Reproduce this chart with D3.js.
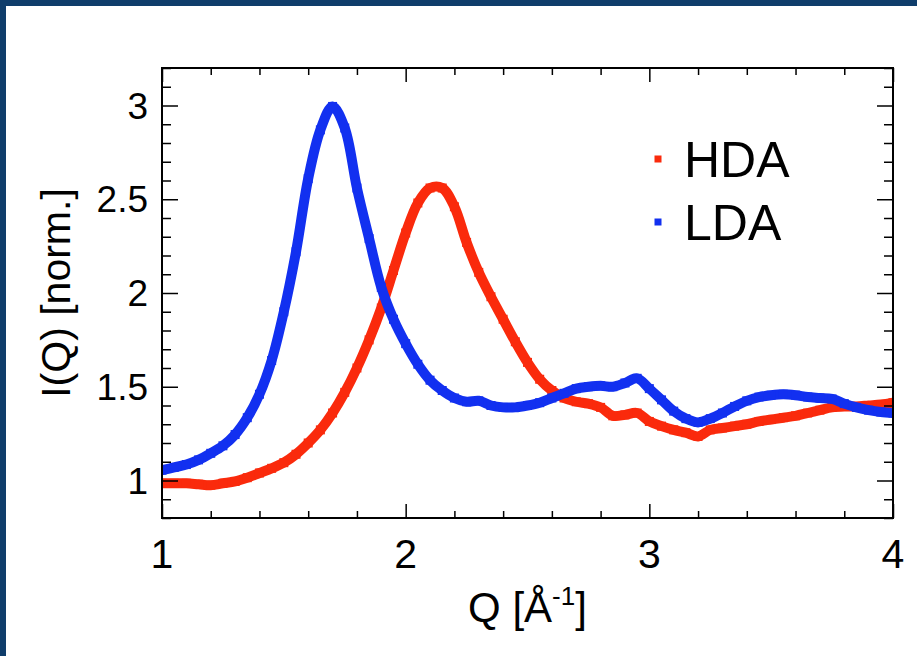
<!DOCTYPE html>
<html><head><meta charset="utf-8">
<script src="https://cdn.jsdelivr.net/npm/d3@7/dist/d3.min.js"></script>
<style>
html,body{margin:0;padding:0;background:#fff;}
svg{display:block;font-family:"Liberation Sans",Arial,Helvetica,sans-serif;}
</style></head>
<body><svg id="chart" width="917" height="656"></svg>
<script>
// ---- data ----
const qValues = [1.00,1.05,1.10,1.15,1.20,1.25,1.30,1.35,1.40,1.45,1.50,1.55,1.60,1.65,1.70,1.75,1.80,1.85,1.90,1.95,
  2.00,2.05,2.10,2.15,2.20,2.25,2.30,2.35,2.40,2.45,2.50,2.55,2.60,2.65,2.70,2.75,2.80,2.85,2.90,2.95,
  3.00,3.05,3.10,3.15,3.20,3.25,3.30,3.35,3.40,3.45,3.50,3.55,3.60,3.65,3.70,3.75,3.80,3.85,3.90,3.95,4.00];
const hdaValues = [0.985,0.985,0.985,0.98,0.975,0.985,0.995,1.015,1.04,1.065,1.095,1.14,1.20,1.27,1.36,1.47,1.60,1.75,1.92,2.12,
  2.32,2.48,2.56,2.56,2.46,2.27,2.11,1.98,1.86,1.74,1.63,1.54,1.48,1.44,1.42,1.41,1.39,1.345,1.35,1.36,
  1.315,1.29,1.27,1.255,1.235,1.27,1.28,1.29,1.30,1.315,1.325,1.335,1.345,1.36,1.375,1.39,1.395,1.395,1.40,1.405,1.415];
const ldaValues = [1.055,1.07,1.085,1.11,1.145,1.185,1.245,1.335,1.46,1.64,1.90,2.22,2.61,2.87,2.995,2.88,2.56,2.29,2.03,1.86,
  1.73,1.62,1.535,1.48,1.44,1.42,1.425,1.40,1.39,1.39,1.40,1.415,1.44,1.465,1.49,1.50,1.505,1.50,1.52,1.545,
  1.49,1.43,1.37,1.33,1.31,1.33,1.36,1.395,1.425,1.445,1.455,1.46,1.455,1.445,1.44,1.435,1.41,1.39,1.375,1.365,1.36];
const seriesNames = ["HDA","LDA"];
const xMajorTicks = [1,2,3,4];
const yMajorTicks = [1,1.5,2,2.5,3];

// ---- layout ----
const svg = d3.select("#chart");
const W = 917, H = 656;
const L = 162, R = 893, T = 68, B = 518;
const colors = {HDA:"#fa2a0c", LDA:"#1230f0"};

svg.append("rect").attr("x",0).attr("y",0).attr("width",W).attr("height",H).attr("fill","#0f3d6b");
svg.append("rect").attr("x",6).attr("y",6).attr("width",W-6).attr("height",H-6).attr("fill","#fff");

const x = d3.scaleLinear().domain([1,4]).range([L,R]);
const y = d3.scaleLinear().domain([0.8,3.2]).range([B,T]);

const xMinor = d3.range(1,4.0001,0.2).map(v=>+v.toFixed(2)).filter(v=>!xMajorTicks.includes(v));
const yMinor = d3.range(0.8,3.2001,0.1).map(v=>+v.toFixed(2)).filter(v=>!yMajorTicks.includes(v));

svg.append("clipPath").attr("id","clip").append("rect")
  .attr("x",L).attr("y",T).attr("width",R-L).attr("height",B-T);

const series = [
  {name:"HDA", values:hdaValues},
  {name:"LDA", values:ldaValues}
];
const line = d3.line().x((d,i)=>x(qValues[i])).y(d=>y(d)).curve(d3.curveCatmullRom.alpha(0.5));
const g = svg.append("g").attr("clip-path","url(#clip)");
series.forEach(s=>{
  g.append("path").attr("d",line(s.values)).attr("fill","none")
    .attr("stroke",colors[s.name]).attr("stroke-width",10).attr("stroke-linejoin","round");
  g.selectAll(null).data(s.values).enter().append("rect")
    .attr("x",(d,i)=>x(qValues[i])-4.5).attr("y",d=>y(d)-4.5)
    .attr("width",9).attr("height",9).attr("fill",colors[s.name]);
});

// ---- axes (ticks inside on all sides) ----
function axisGroup(axis, tx, ty){
  const a = svg.append("g").attr("transform",`translate(${tx},${ty})`).call(axis);
  a.select(".domain").remove();
  a.selectAll("line").attr("stroke","#000").attr("stroke-width",1.5);
  return a;
}
axisGroup(d3.axisBottom(x).tickValues(xMajorTicks).tickSize(-14).tickFormat(""),0,B);
axisGroup(d3.axisBottom(x).tickValues(xMinor).tickSize(-7).tickFormat(""),0,B);
axisGroup(d3.axisTop(x).tickValues(xMajorTicks).tickSize(-14).tickFormat(""),0,T);
axisGroup(d3.axisTop(x).tickValues(xMinor).tickSize(-7).tickFormat(""),0,T);
axisGroup(d3.axisLeft(y).tickValues(yMajorTicks).tickSize(-16).tickFormat(""),L,0);
axisGroup(d3.axisLeft(y).tickValues(yMinor).tickSize(-9).tickFormat(""),L,0);
axisGroup(d3.axisRight(y).tickValues(yMajorTicks).tickSize(-16).tickFormat(""),R,0);
axisGroup(d3.axisRight(y).tickValues(yMinor).tickSize(-9).tickFormat(""),R,0);

svg.append("rect").attr("x",L).attr("y",T).attr("width",R-L).attr("height",B-T)
  .attr("fill","none").attr("stroke","#000").attr("stroke-width",2);

// tick labels
svg.append("g").selectAll("text").data(xMajorTicks).enter().append("text")
  .attr("x",d=>x(d)).attr("y",568).attr("text-anchor","middle")
  .attr("font-size",41).attr("fill","#000").text(d=>d3.format("")(d));
svg.append("g").selectAll("text").data(yMajorTicks).enter().append("text")
  .attr("x",148).attr("y",d=>y(d)+13).attr("text-anchor","end")
  .attr("font-size",37).attr("fill","#000").text(d=>d3.format("")(d));

// axis titles
const xt = svg.append("text").attr("x",(L+R)/2).attr("y",622).attr("text-anchor","middle")
  .attr("font-size",42).attr("fill","#000");
xt.append("tspan").text("Q [Å");
xt.append("tspan").attr("font-size",26).attr("dy",-17).text("-1");
xt.append("tspan").attr("dy",17).text("]");

svg.append("text").attr("transform",`translate(70,${(T+B)/2}) rotate(-90)`)
  .attr("text-anchor","middle").attr("font-size",41).attr("fill","#000").text("I(Q) [norm.]");

// legend
const legendY = [159,222];
seriesNames.forEach((n,i)=>{
  svg.append("rect").attr("x",654.5).attr("y",legendY[i]-3.5).attr("width",7).attr("height",7).attr("fill",colors[n]);
  svg.append("text").attr("x",684).attr("y",legendY[i]+18).attr("font-size",50).attr("fill","#000").text(n);
});
</script></body></html>
